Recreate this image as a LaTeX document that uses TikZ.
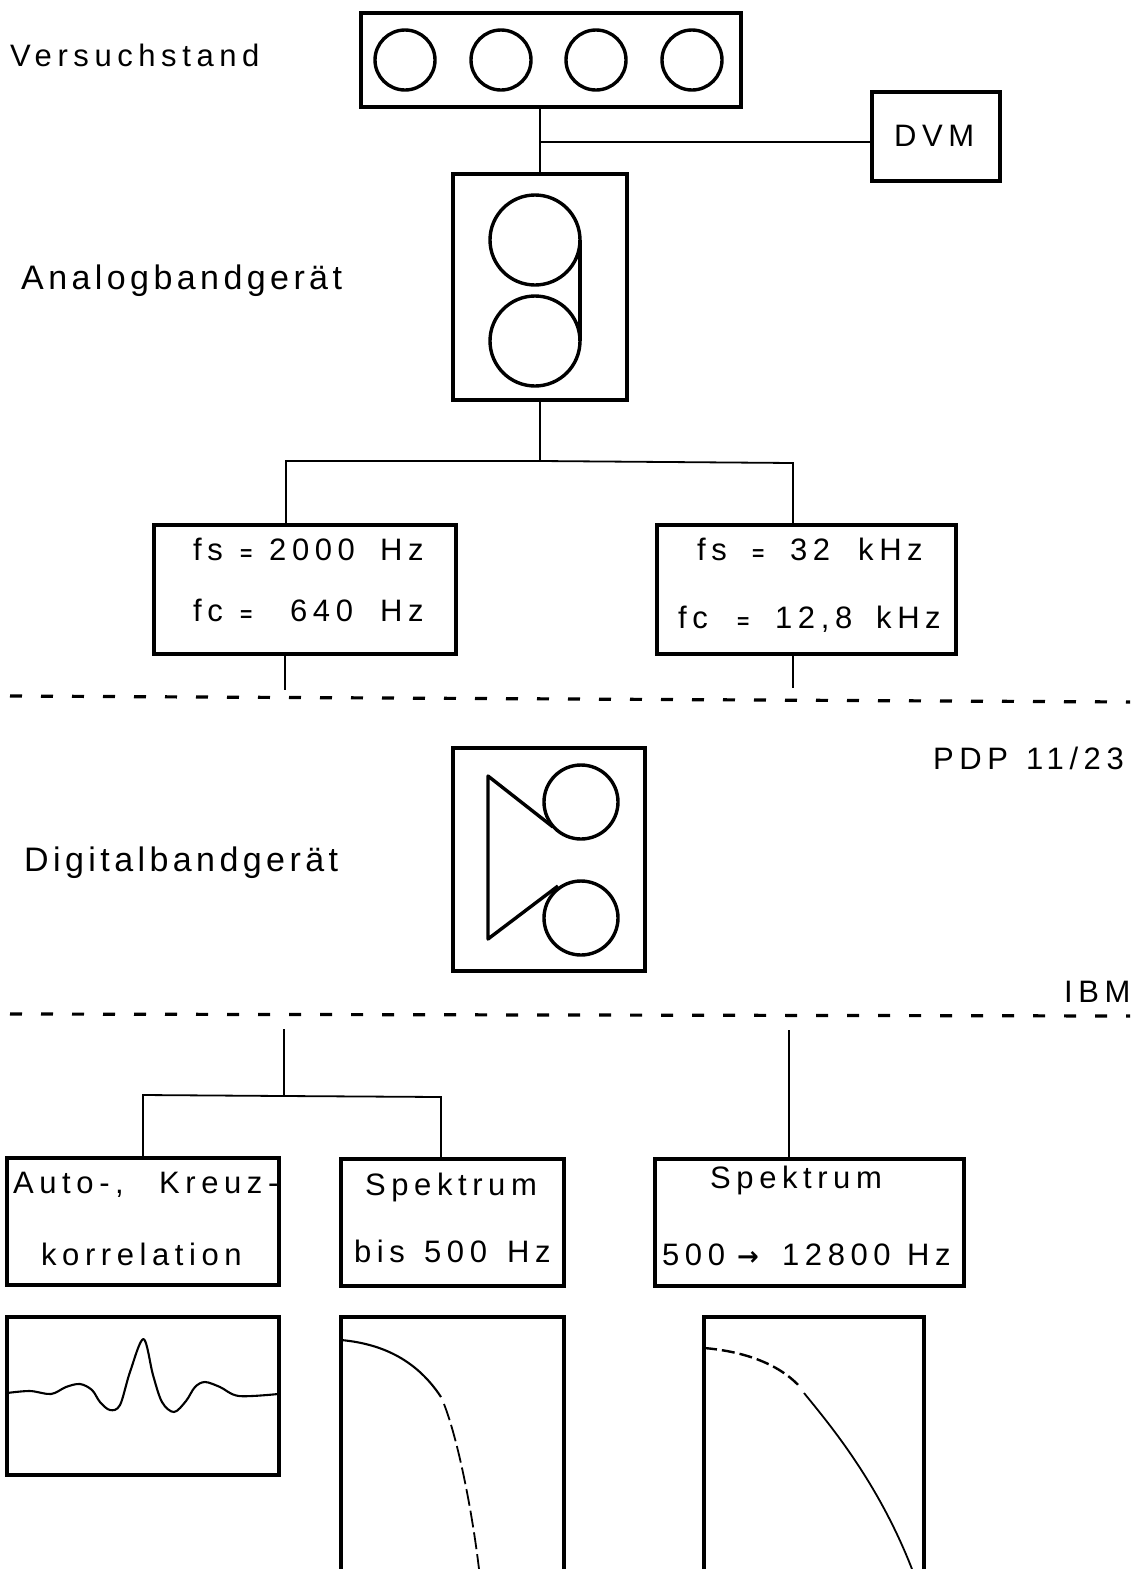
\documentclass[tikz,border=0pt]{standalone}
\usepackage{fontspec}
\setmainfont{Liberation Sans}
\newfontfamily\wide[LetterSpace=18]{Liberation Sans}
\newfontfamily\wider[LetterSpace=13]{Liberation Sans}
\newfontfamily\arrowfont{DejaVu Sans Bold}
\newfontfamily\eqfont{Liberation Sans Bold}
\newcommand{\pc}[2]{\makebox[#1pt][l]{#2}}
\newcommand{\eqs}{{\eqfont\fontsize{21}{21}\selectfont =}}
\usetikzlibrary{calc}
\tikzset{
  thin line/.style={draw=black,line width=1.8pt},
  heavy/.style={draw=black,line width=3.4pt},
  dash line/.style={draw=black,line width=3.2pt,dash pattern=on 12pt off 19pt},
  lab/.style={font=\wide\fontsize{31}{32}\selectfont,inner sep=0pt,anchor=base west},
  labb/.style={font=\wider\fontsize{34}{36}\selectfont,inner sep=0pt,anchor=base west},
  rect/.style={draw=black,line width=3.6pt,fill=none,outer sep=0pt},
  ring/.style={draw=black,line width=3.4pt,circle,inner sep=0pt,outer sep=0pt},
  curve/.style={draw=black,line width=2.1pt},
}
\begin{document}
\begin{tikzpicture}[x=1pt,y=-1pt]
\useasboundingbox (0,0) rectangle (1139,1569);
\newcommand{\bx}[5]{\node[rect,anchor=north west,minimum width=#4-#2 pt,minimum height=#5-#3 pt,inner sep=0pt] (#1) at (#2,#3) {};}
\bx{vs}{361}{13}{741}{107}
\bx{dvm}{872}{92}{1000}{181}
\bx{ag}{453}{174}{627}{400}
\bx{fa}{154}{525}{456}{654}
\bx{fb}{657}{525}{956}{654}
\bx{dg}{453}{748}{645}{971}
\bx{ak}{7}{1158}{279}{1285}
\bx{sa}{341}{1159}{564}{1286}
\bx{sb}{655}{1159}{964}{1286}
\bx{pa}{7}{1317}{279}{1475}
\bx{pb}{341}{1317}{564}{1574}
\bx{pc}{704}{1317}{924}{1574}
% circles
\foreach \n/\x/\r in {c1/405/30,c2/501/30,c3/596/30,c4/692/30}
  \node[ring,minimum size=2*\r pt] (\n) at (\x,60) {};
\node[ring,minimum size=90pt] (t1) at (535,240) {};
\node[ring,minimum size=90pt] (t2) at (535,341) {};
\draw[heavy] (t1.east) -- (t2.east);
\node[ring,minimum size=74pt] (d1) at (581,802) {};
\node[ring,minimum size=74pt] (d2) at (581,918) {};
\coordinate (d1a) at (488,776);
\coordinate (d2a) at (488,939);
\coordinate (d1t) at (553,827);
\coordinate (d2t) at (558,886);
\draw[heavy,line join=round] (d1t) -- (d1a) -- (d2a) -- (d2t);
% connectors
\coordinate (j0) at (540,142);
\draw[thin line] (vs.south -| j0) -- (ag.north -| j0);
\draw[thin line] (j0) -- (j0 -| dvm.west);
\coordinate (j1) at (540,461);
\draw[thin line] (ag.south -| j1) -- (j1);
\coordinate (fat) at (286,461);
\coordinate (fbt) at (793,463);
\draw[thin line] (fa.north -| fat) -- (fat) -- (j1) -- (fbt) -- (fb.north -| fbt);
\coordinate (fae) at (285,690);
\coordinate (fbe) at (793,688);
\draw[thin line] (fa.south -| fae) -- (fae);
\draw[thin line] (fb.south -| fbe) -- (fbe);
% dashed separators
\coordinate (l1a) at (10,696);
\coordinate (l1b) at (1130,702);
\coordinate (l2a) at (10,1014);
\coordinate (l2b) at (1130,1016);
\draw[dash line] (l1a) -- (l1b);
\draw[dash line] (l2a) -- (l2b);
% lower connectors
\coordinate (k0) at (284,1029);
\coordinate (k1) at (284,1096);
\coordinate (kl) at (143,1095);
\coordinate (kr) at (441,1097);
\draw[thin line] (k0) -- (k1);
\draw[thin line] (ak.north -| kl) -- (kl) -- (k1) -- (kr) -- (sa.north -| kr);
\coordinate (m0) at (789,1030);
\draw[thin line] (m0) -- (sb.north -| m0);
% labels
\node[lab] (t1l) at (10,66) {Versuchstand};
\node[labb] (t2l) at (21,289) {Analogbandgerät};
\node[labb] (t3l) at (24,871) {Digitalbandgerät};
\node[lab] (dv) at (894,146) {DVM};
\node[lab] (a1) at (193,560) {\pc{47}{fs}\pc{29}{\eqs}\pc{111}{2000}Hz};
\node[lab] (a2) at (193,621) {\pc{47}{fc}\pc{50}{\eqs}\pc{90}{640}Hz};
\node[lab] (b1) at (697,560) {\pc{55}{fs}\pc{38}{\eqs}\pc{68}{32}kHz};
\node[lab] (b2) at (678,628) {\pc{59}{fc}\pc{38}{\eqs}\pc{101}{12,8}kHz};
\node[lab] (pdp) at (933,769) {\pc{93}{PDP}11/23};
\node[lab] (ibm) at (1064,1002) {IBM};
\node[lab] (s1) at (13,1193) {\pc{146}{Auto-,}Kreuz-};
\node[lab] (s2) at (41,1265) {korrelation};
\node[lab] (s3) at (365,1195) {Spektrum};
\node[lab] (s4) at (354,1262) {\pc{70}{bis}\pc{83}{500}Hz};
\node[lab] (s5) at (710,1188) {Spektrum};
\node[lab] (s6) at (662,1265) {\pc{75}{500}\pc{45}{\arrowfont\fontsize{26}{26}\selectfont →}\pc{125}{12800}Hz};
% plots
\draw[curve,line join=round] plot[smooth,tension=0.55] coordinates {(7,1393) (30,1391) (51,1394) (66,1387) (80,1384) (92,1390) (100,1402) (110,1410) (120,1405) (130,1372) (143.5,1339) (153,1375) (162,1402) (174,1412) (186,1401) (195,1387) (205,1382) (220,1387) (239,1396) (278,1394)};
\draw[curve] (341,1340) .. controls (385,1344) and (418,1362) .. (441,1397);
\draw[curve,line width=1.8pt,dash pattern=on 17pt off 5pt] (444,1404) .. controls (458,1440) and (472,1510) .. (479,1569);
\draw[curve,line width=2.4pt,dash pattern=on 13pt off 5pt] (704,1348) .. controls (740,1351) and (778,1362) .. (801,1388);
\draw[curve,line width=1.8pt] (804,1393) .. controls (830,1425) and (878,1482) .. (912,1569);
\end{tikzpicture}
\end{document}
